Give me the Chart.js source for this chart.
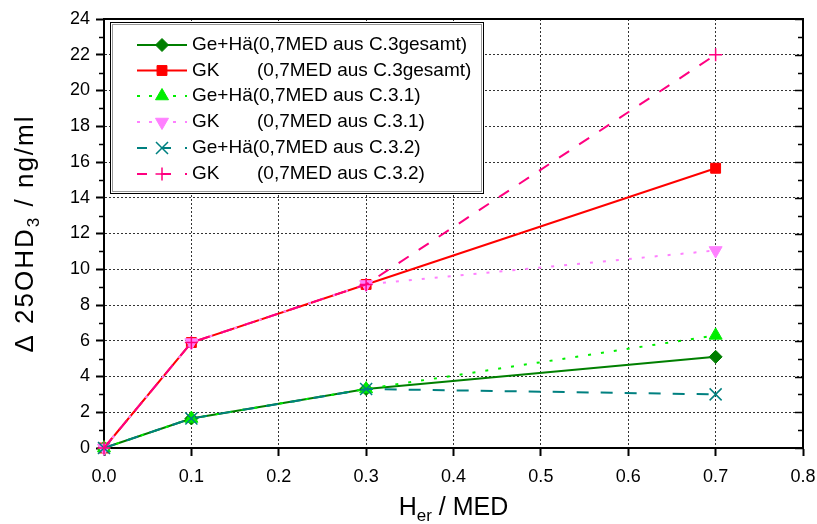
<!DOCTYPE html>
<html>
<head>
<meta charset="utf-8">
<script src="https://cdn.jsdelivr.net/npm/chart.js@4/dist/chart.umd.min.js"></script>
<style>
  html, body { margin: 0; padding: 0; background: #fff; }
  #wrap { width: 817px; height: 524px; }
</style>
</head>
<body>
<div id="wrap"><canvas id="chart" width="817" height="524"></canvas></div>
<script>
// Erythemdosis (x) und Anstieg 25OHD3 (y)
const doses = [0.0, 0.1, 0.3, 0.7];
const geHaeGesamt = [0, 1.65, 3.3, 5.1];
const gkGesamt = [0, 5.9, 9.15, 15.65];
const geHae31 = [0, 1.65, 3.3, 6.3];
const gk31 = [0, 5.9, 9.15, 11.05];
const geHae32 = [0, 1.65, 3.3, 3.0];
const gk32 = [0, 5.9, 9.15, 22.0];

const groupNames = ['Ge+Hä', 'GK', 'Ge+Hä', 'GK', 'Ge+Hä', 'GK'];
const sourceNames = ['(0,7MED aus C.3gesamt)', '(0,7MED aus C.3gesamt)',
  '(0,7MED aus C.3.1)', '(0,7MED aus C.3.1)', '(0,7MED aus C.3.2)', '(0,7MED aus C.3.2)'];

const xTicks = [0, 0.1, 0.2, 0.3, 0.4, 0.5, 0.6, 0.7, 0.8];
const yTicks = [0, 2, 4, 6, 8, 10, 12, 14, 16, 18, 20, 22, 24];

const FONT = '"Liberation Sans", Arial, sans-serif';

const series = [
  { values: geHaeGesamt, color: '#007f00', dash: [], style: 'rectRot', radius: 6.5, rot: 0, bw: 1 },
  { values: gkGesamt, color: '#ff0000', dash: [], style: 'rect', radius: 7, rot: 0, bw: 1 },
  { values: geHae31, color: '#00ee00', dash: [3, 10], style: 'triangle', radius: 7.5, rot: 0, bw: 1 },
  { values: gk31, color: '#ff80ff', dash: [3, 10], style: 'triangle', radius: 7.5, rot: 180, bw: 1 },
  { values: geHae32, color: '#008080', dash: [12, 12], style: 'crossRot', radius: 8.5, rot: 0, bw: 1.5 },
  { values: gk32, color: '#ff0080', dash: [12, 12], style: 'cross', radius: 6.5, rot: 0, bw: 1.5 }
];

const datasets = series.map((s, i) => ({
  label: groupNames[i] + ' ' + sourceNames[i],
  data: doses.map((x, k) => ({ x: x, y: s.values[k] })),
  borderColor: s.color,
  backgroundColor: s.color,
  borderWidth: 2,
  borderDash: s.dash,
  pointStyle: s.style,
  pointRotation: s.rot,
  pointRadius: s.radius,
  pointBorderWidth: s.bw,
  pointBackgroundColor: s.color,
  pointBorderColor: s.color,
  tension: 0,
  clip: false,
  order: series.length - i
}));

// Rahmen, Nebenstriche, Achsentitel und Legende
const decorations = {
  id: 'decorations',
  beforeDatasetsDraw(chart) {
    const { ctx, chartArea: a, scales: { x, y } } = chart;
    ctx.save();
    ctx.strokeStyle = '#000';
    ctx.lineWidth = 2;
    ctx.beginPath();
    ctx.moveTo(a.left, a.top);
    ctx.lineTo(a.right, a.top);
    ctx.lineTo(a.right, a.bottom);
    ctx.stroke();
    ctx.lineWidth = 1.5;
    ctx.beginPath();
    for (let v = 0; v <= 24; v++) {
      const py = Math.round(y.getPixelForValue(v)) + 0.5;
      const len = v % 2 === 0 ? 8 : 5;
      if (v % 2 === 1) {
        ctx.moveTo(a.left - 5, py);
        ctx.lineTo(a.left, py);
      }
      ctx.moveTo(a.right - len, py);
      ctx.lineTo(a.right, py);
    }
    ctx.stroke();
    ctx.restore();
  },
  afterDraw(chart) {
    const { ctx, chartArea: a } = chart;
    ctx.save();
    ctx.fillStyle = '#000';

    // y-Achsentitel mit Index
    const big = '26px ' + FONT, small = '17px ' + FONT;
    ctx.letterSpacing = '2px';
    ctx.font = big;
    const p1 = 'Δ 25OHD', p3 = ' / ng/ml';
    const w1 = ctx.measureText(p1).width, w3 = ctx.measureText(p3).width;
    ctx.font = small;
    const w2 = ctx.measureText('3').width;
    const total = w1 + w2 + w3;
    ctx.translate(33, (a.top + a.bottom) / 2);
    ctx.rotate(-Math.PI / 2);
    ctx.textBaseline = 'alphabetic';
    ctx.textAlign = 'left';
    let cx = -total / 2;
    ctx.font = big; ctx.fillText(p1, cx, 0); cx += w1;
    ctx.font = small; ctx.fillText('3', cx, 6); cx += w2;
    ctx.font = big; ctx.fillText(p3, cx, 0);
    ctx.setTransform(1, 0, 0, 1, 0, 0);
    ctx.letterSpacing = '0px';

    // x-Achsentitel
    const bigX = '25px ' + FONT;
    ctx.font = bigX;
    const q1 = 'H', q3 = ' / MED';
    const v1 = ctx.measureText(q1).width, v3 = ctx.measureText(q3).width;
    ctx.font = small;
    const v2 = ctx.measureText('er').width;
    let tx = (a.left + a.right) / 2 - (v1 + v2 + v3) / 2;
    const ty = 515;
    ctx.font = bigX; ctx.fillText(q1, tx, ty); tx += v1;
    ctx.font = small; ctx.fillText('er', tx, ty + 6); tx += v2;
    ctx.font = bigX; ctx.fillText(q3, tx, ty);

    // Legende
    const bx = 110.5, by = 22.5, bw = 373, bh = 171;
    ctx.fillStyle = '#fff';
    ctx.fillRect(bx, by, bw, bh);
    ctx.strokeStyle = '#000';
    ctx.lineWidth = 1;
    ctx.strokeRect(bx, by, bw, bh);
    ctx.strokeStyle = '#999';
    ctx.strokeRect(bx + 2, by + 2, bw - 4, bh - 4);
    const rowY = [45, 70.5, 96, 122, 148, 174];
    series.forEach((s, i) => {
      const ry = rowY[i];
      ctx.save();
      ctx.strokeStyle = s.color;
      ctx.lineWidth = 2;
      ctx.setLineDash(s.dash.length ? (s.dash[0] === 3 ? [3, 9] : [10, 14]) : []);
      ctx.beginPath();
      ctx.moveTo(137, ry);
      ctx.lineTo(187, ry);
      ctx.stroke();
      ctx.setLineDash([]);
      ctx.fillStyle = s.color;
      ctx.strokeStyle = s.color;
      ctx.lineWidth = s.bw;
      Chart.helpers.drawPoint(ctx, {
        pointStyle: s.style, rotation: s.rot, radius: s.radius, borderWidth: s.bw
      }, 162, ry);
      ctx.restore();
      ctx.fillStyle = '#000';
      ctx.font = '19px ' + FONT;
      ctx.textBaseline = 'middle';
      if (groupNames[i] === 'GK') {
        ctx.fillText(groupNames[i], 192, ry);
        ctx.fillText(sourceNames[i], 257, ry);
      } else {
        ctx.fillText(groupNames[i] + sourceNames[i], 192, ry);
      }
    });
    ctx.restore();
  }
};

new Chart(document.getElementById('chart'), {
  type: 'line',
  data: { datasets: datasets },
  options: {
    responsive: false,
    animation: false,
    devicePixelRatio: 1,
    layout: { padding: { left: 0, top: 19, right: 14, bottom: 0 } },
    plugins: { legend: { display: false }, tooltip: { enabled: false } },
    scales: {
      x: {
        type: 'linear',
        min: 0,
        max: 0.8,
        afterBuildTicks: (scale) => { scale.ticks = xTicks.map(v => ({ value: v })); },
        afterFit: (scale) => {
          scale.height = 76;
          scale.paddingLeft = 0;
          scale.paddingRight = 0;
        },
        ticks: {
          color: '#000',
          font: { family: FONT, size: 18 },
          padding: 10,
          maxRotation: 0,
          callback: (v) => Number(v).toFixed(1)
        },
        grid: { color: '#333', lineWidth: 1, tickColor: '#000', tickLength: 8, tickWidth: 2 },
        border: { display: true, color: '#000', width: 2, dash: [2, 2] }
      },
      y: {
        type: 'linear',
        min: 0,
        max: 24,
        afterBuildTicks: (scale) => { scale.ticks = yTicks.map(v => ({ value: v })); },
        afterFit: (scale) => {
          scale.width = 104;
          scale.paddingTop = 0;
          scale.paddingBottom = 0;
        },
        ticks: {
          color: '#000',
          font: { family: FONT, size: 18 },
          padding: 6
        },
        grid: { color: '#333', lineWidth: 1, tickColor: '#000', tickLength: 8, tickWidth: 2 },
        border: { display: true, color: '#000', width: 2, dash: [2, 2] }
      }
    }
  },
  plugins: [decorations]
});
</script>
</body>
</html>
